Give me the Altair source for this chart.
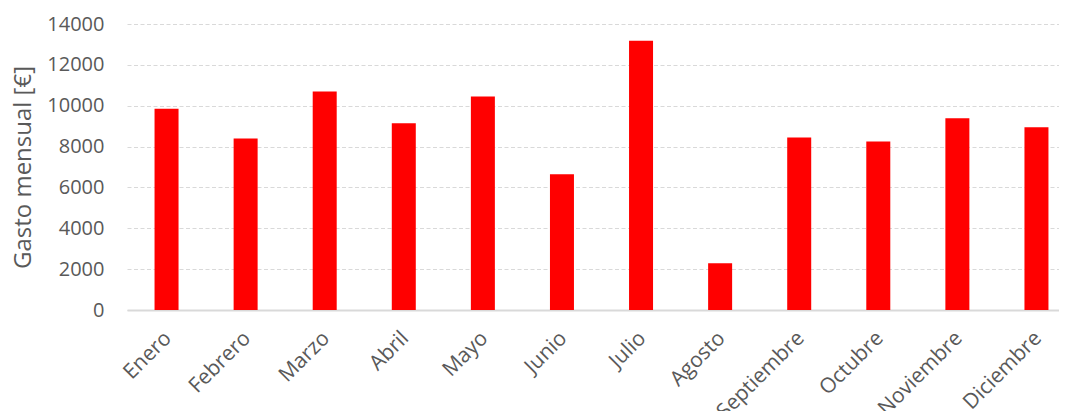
import altair as alt
import pandas as pd

meses = ["Enero", "Febrero", "Marzo", "Abril", "Mayo", "Junio", "Julio",
         "Agosto", "Septiembre", "Octubre", "Noviembre", "Diciembre"]
gasto = [9850, 8400, 10700, 9140, 10450, 6650, 13180, 2290, 8440, 8250, 9390, 8950]
y_ticks = [0, 2000, 4000, 6000, 8000, 10000, 12000, 14000]

df = pd.DataFrame({"mes": meses, "gasto": gasto})

FONT = "Open Sans"
GRAY = "#595959"

chart = alt.Chart(df).mark_bar(color="#FF0000", size=24).encode(
    x=alt.X("mes:N", sort=meses, title=None,
            scale=alt.Scale(paddingInner=0, paddingOuter=0, range=[0, 949]),
            axis=alt.Axis(labelAngle=-45, labelAlign="right", labelBaseline="top",
                          labelOffset=-6, labelPadding=17, ticks=False, tickSize=0,
                          domainColor="#d9d9d9", domainWidth=2, grid=False,
                          labelFont=FONT, labelFontSize=21, labelColor=GRAY)),
    y=alt.Y("gasto:Q", title="Gasto mensual [€]",
            scale=alt.Scale(domain=[0, 14000], nice=False),
            axis=alt.Axis(values=y_ticks, format="d", ticks=False, tickSize=0,
                          domain=False, grid=True, gridColor="#d9d9d9",
                          gridDash=[4, 2.5], gridWidth=1,
                          labelPadding=23, labelFont=FONT, labelFontSize=20,
                          labelColor=GRAY, titleFont=FONT, titleFontSize=24,
                          titleFontWeight="normal", titleColor=GRAY,
                          titlePadding=11)),
).properties(
    width=932, height=286,
    background="white",
    autosize=alt.AutoSizeParams(type="none"),
    padding={"left": 119, "top": 16, "right": 0, "bottom": 101},
).configure_view(stroke=None, strokeWidth=0)

chart.save("out.html", embed_options={"renderer": "svg", "actions": False})
